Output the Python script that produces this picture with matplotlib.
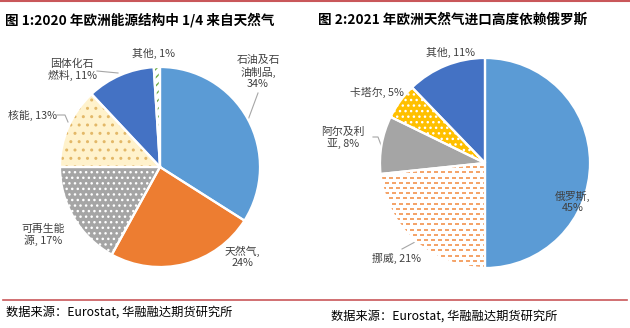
import matplotlib
matplotlib.use("Agg")
import matplotlib.pyplot as plt
import numpy as np

plt.rcParams['font.family'] = ['Noto Sans CJK SC', 'DejaVu Sans']

# ---------------- data ----------------
title1 = "图 1:2020 年欧洲能源结构中 1/4 来自天然气"
labels1 = ["石油及石\n油制品,\n34%", "天然气,\n24%", "可再生能\n源, 17%", "核能, 13%", "固体化石\n燃料, 11%", "其他, 1%"]
values1 = [34, 24, 17, 13, 11, 1]

title2 = "图 2:2021 年欧洲天然气进口高度依赖俄罗斯"
labels2 = ["俄罗斯,\n45%", "挪威, 21%", "阿尔及利\n亚, 8%", "卡塔尔, 5%", "其他, 11%"]
values2 = [45, 21, 8, 5, 11]

source = "数据来源：Eurostat, 华融融达期货研究所"

# ---------------- styles ----------------
face1 = ["#5B9BD5", "#ED7D31", "#A5A5A5", "#FFF2CC", "#4472C4", "#FFFFFF"]
hatch1 = [None, None, "...", "..", None, "////"]
hcol1 = [None, None, "#FFFFFF", "#E3B868", None, "#70AD47"]

face2 = ["#5B9BD5", "#FFFFFF", "#A5A5A5", "#FFC000", "#4472C4"]
hatch2 = [None, None, None, "...", None]
hcol2 = [None, None, None, "#FFFFFF", None]

fig = plt.figure(figsize=(6.3, 3.28), dpi=100)
ax = fig.add_axes([0, 0, 1, 1])

def draw_pie(values, center, radius, faces, hatches, hcols):
    wedges, _ = ax.pie(values, center=center, radius=radius, startangle=-90,
                       counterclock=True, colors=faces, frame=True,
                       wedgeprops=dict(linewidth=0))
    for w, h, hc in zip(wedges, hatches, hcols):
        if h:
            w.set_hatch(h)
            w.set_edgecolor(hc)
            w.set_linewidth(0)
    return wedges

def draw_separators(values, center, radius):
    ax.pie(values, center=center, radius=radius, startangle=-90,
           counterclock=True, frame=True,
           wedgeprops=dict(fill=False, edgecolor="white", linewidth=1.6, zorder=4))

c1 = (160, 167); r1 = 100
c2 = (485, 163); r2 = 105
wedges1 = draw_pie(values1, c1, r1, face1, hatch1, hcol1)
wedges2 = draw_pie(values2, c2, r2, face2, hatch2, hcol2)

# dashed texture for Norway wedge
nw = wedges2[1]
xs, ys = [], []
for j, y in enumerate(np.arange(c2[1] - r2, c2[1] + r2, 5.2)):
    off = 0 if j % 2 == 0 else 3.5
    for x in np.arange(c2[0] - r2 + off, c2[0] + r2, 7.0):
        xs.append(x); ys.append(y)
sc = ax.scatter(xs, ys, marker="_", s=9, linewidths=1.1, color="#F4A46A", zorder=3)
sc.set_clip_path(nw)

draw_separators(values1, c1, r1)
draw_separators(values2, c2, r2)

ax.set_xlim(0, 630)
ax.set_ylim(328, 0)
ax.axis('off')

lab_kw = dict(fontsize=7.8, color="#404040", ha="center", va="center", linespacing=1.15, zorder=5)
pos1 = [(258, 72), (242, 257), (43, 235), (32, 115), (72, 70), (154, 53)]
for (x, y), t in zip(pos1, labels1):
    ax.text(x, y, t, **lab_kw)
pos2 = [(573, 202), (396, 258), (343, 138), (377, 92), (450, 52)]
for (x, y), t in zip(pos2, labels2):
    ax.text(x, y, t, **lab_kw)

lc = "#A6A6A6"
ax.plot([258, 248], [93, 120], color=lc, lw=0.8)
ax.plot([97, 118], [71, 73], color=lc, lw=0.8)
ax.plot([57, 65, 68], [115, 115, 122], color=lc, lw=0.8)
ax.plot([373, 378, 381], [137, 137, 145], color=lc, lw=0.8)
ax.plot([402, 415], [249, 242], color=lc, lw=0.8)

# titles
ax.text(5, 20, title1, fontsize=9.8, fontweight="bold", ha="left", va="center", color="#000000")
ax.text(318, 20, title2, fontsize=9.8, fontweight="bold", ha="left", va="center", color="#000000")

# red rules
red = "#C9575A"
ax.plot([0, 630], [1, 1], color=red, lw=1.5)
ax.plot([3, 627], [300, 300], color=red, lw=1.2)

# sources
ax.text(6, 312, source, fontsize=8.8, ha="left", va="center", color="#000000")
ax.text(331, 316, source, fontsize=8.8, ha="left", va="center", color="#000000")

fig.savefig("out.png", dpi=100)
